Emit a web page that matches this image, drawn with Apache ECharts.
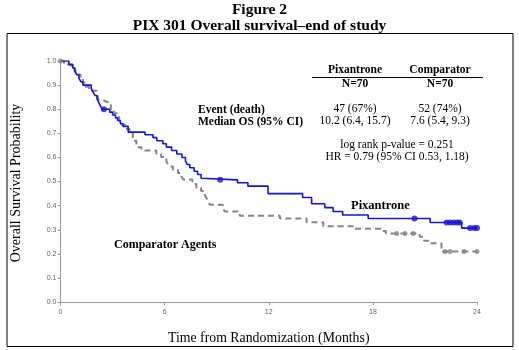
<!DOCTYPE html>
<html>
<head>
<meta charset="utf-8">
<script src="https://cdn.jsdelivr.net/npm/echarts@6/dist/echarts.min.js"></script>
<style>
  html, body { margin: 0; padding: 0; background: #fff; }
  #main { width: 519px; height: 350px; }
</style>
</head>
<body>
<div id="main"></div>
<script>
// Pixantrone KM curve (time in months, survival after the event)
const pixTimes = [0, 0.48, 0.71, 0.83, 0.94, 1.06, 1.17, 1.29, 1.77, 1.88, 1.98, 2.1, 2.2, 2.3, 2.4,
  2.83, 3.0, 3.17, 3.29, 3.45, 3.6, 3.9, 4.87, 5.33, 5.55, 5.9, 6.1, 6.4, 6.7, 7.0, 7.2, 7.3, 7.45,
  7.7, 7.9, 8.1, 8.2, 10.2, 10.8, 11.96, 13.95, 14.47, 15.23, 15.71, 16.26, 17.73, 21.3, 23.12, 24.0];
const pixSurv = [1.0, 0.986, 0.971, 0.957, 0.943, 0.929, 0.914, 0.9, 0.886, 0.871, 0.857, 0.843, 0.829, 0.814, 0.8,
  0.788, 0.776, 0.764, 0.753, 0.741, 0.729, 0.705, 0.694, 0.682, 0.669, 0.657, 0.643, 0.629, 0.614, 0.6, 0.586, 0.571, 0.557,
  0.543, 0.529, 0.514, 0.507, 0.495, 0.481, 0.45, 0.434, 0.408, 0.392, 0.376, 0.361, 0.347, 0.33, 0.307, 0.307];
const pixCensorTimes = [2.5, 9.2, 20.4, 22.25, 22.45, 22.65, 22.85, 23.0, 23.6, 23.85, 24.0];
const pixCensorSurv = [0.8, 0.507, 0.347, 0.33, 0.33, 0.33, 0.33, 0.33, 0.307, 0.307, 0.307];

// Comparator agents KM curve
const compTimes = [0, 0.2, 0.33, 0.62, 0.8, 1.0, 1.15, 1.29, 1.45, 1.64, 2.1, 2.21, 2.5, 2.73, 2.9, 3.1,
  3.25, 3.38, 3.5, 3.75, 3.98, 4.17, 4.37, 4.66, 5.52, 5.8, 6.1, 6.2, 6.29, 6.48, 6.77, 6.96, 7.07,
  7.6, 7.83, 8.1, 8.3, 8.4, 8.5, 8.6, 9.36, 9.45, 10.33, 12.64, 14.18, 15.14, 16.95, 18.45, 18.75,
  20.7, 20.95, 21.2, 21.95, 24.0];
const compSurv = [1.0, 0.986, 0.984, 0.97, 0.957, 0.944, 0.927, 0.91, 0.893, 0.877, 0.863, 0.836, 0.829, 0.819, 0.8, 0.783,
  0.768, 0.752, 0.736, 0.718, 0.702, 0.669, 0.642, 0.629, 0.615, 0.602, 0.582, 0.572, 0.562, 0.548, 0.535, 0.522, 0.508,
  0.49, 0.474, 0.461, 0.447, 0.433, 0.419, 0.404, 0.39, 0.376, 0.358, 0.347, 0.331, 0.315, 0.304, 0.295, 0.285,
  0.271, 0.254, 0.244, 0.21, 0.21];
const compCensorTimes = [0, 19.37, 19.85, 20.33, 22.16, 22.45, 23.25, 24.0];
const compCensorSurv = [1.0, 0.285, 0.285, 0.285, 0.21, 0.21, 0.21, 0.21];

const xTicks = [0, 6, 12, 18, 24];
const yTicks = [0, 0.1, 0.2, 0.3, 0.4, 0.5, 0.6, 0.7, 0.8, 0.9, 1.0];

const zip = (a, b) => a.map((v, i) => [v, b[i]]);

const serif = '"Liberation Serif", "DejaVu Serif", serif';
const sans = '"Liberation Sans", Arial, sans-serif';

var myChart = echarts.init(document.getElementById('main'));

function txt(x, y, text, opts) {
    return {
        type: 'text',
        x: x,
        y: y,
        style: Object.assign({
            text: text,
            fontFamily: serif,
            fontSize: 12,
            fill: '#000',
            textAlign: 'center',
            textVerticalAlign: 'middle'
        }, opts || {})
    };
}

let option = {
    animation: false,
    backgroundColor: '#fff',
    grid: { left: 60.5, right: 42, top: 61, bottom: 37.3 },
    xAxis: {
        type: 'value',
        min: 0,
        max: 24,
        interval: 6,
        name: 'Time from Randomization (Months)',
        nameLocation: 'middle',
        nameGap: 26,
        nameTextStyle: { fontFamily: serif, fontSize: 13.8, color: '#000' },
        axisLine: { lineStyle: { color: '#999', width: 1 } },
        axisTick: { length: 3, lineStyle: { color: '#999' }, customValues: xTicks },
        axisLabel: { fontFamily: sans, fontSize: 7, color: '#666', margin: 4, customValues: xTicks },
        splitLine: { show: false }
    },
    yAxis: {
        type: 'value',
        min: -0.012,
        max: 1.0,
        name: 'Overall Survival Probability',
        nameLocation: 'middle',
        nameGap: 37,
        nameTextStyle: { fontFamily: serif, fontSize: 14, color: '#000' },
        axisLine: { show: true, lineStyle: { color: '#999', width: 1 } },
        axisTick: { show: true, length: 3, lineStyle: { color: '#999' }, customValues: yTicks },
        axisLabel: { fontFamily: sans, fontSize: 7, color: '#666', margin: 4,
                     customValues: yTicks, formatter: v => v.toFixed(1) },
        splitLine: { show: false }
    },
    series: [
        {
            name: 'Comparator',
            type: 'line',
            step: 'end',
            data: zip(compTimes, compSurv),
            showSymbol: false,
            lineStyle: { color: '#858585', width: 2, type: [6, 4] },
            z: 2
        },
        {
            name: 'Pixantrone',
            type: 'line',
            step: 'end',
            data: zip(pixTimes, pixSurv),
            showSymbol: false,
            lineStyle: { color: '#1515d8', width: 1.6 },
            z: 3
        },
        {
            name: 'Comparator censored',
            type: 'scatter',
            data: zip(compCensorTimes, compCensorSurv),
            symbolSize: 5,
            itemStyle: { color: '#858585' },
            z: 4
        },
        {
            name: 'Pixantrone censored',
            type: 'scatter',
            data: zip(pixCensorTimes, pixCensorSurv),
            symbolSize: 6,
            itemStyle: { color: '#1515d8' },
            z: 5
        }
    ],
    graphic: [
        // titles
        txt(259.5, 10, 'Figure 2', { fontWeight: 'bold', fontSize: 15.5 }),
        txt(259.5, 25.5, 'PIX 301 Overall survival\u2013end of study', { fontWeight: 'bold', fontSize: 15.5 }),
        // outer frame
        { type: 'rect', shape: { x: 7, y: 33.5, width: 506, height: 313 },
          style: { fill: 'none', stroke: '#000', lineWidth: 1 }, z: -1 },
        // table header
        txt(355, 70, 'Pixantrone', { fontWeight: 'bold', fontSize: 11.5 }),
        txt(440, 70, 'Comparator', { fontWeight: 'bold', fontSize: 11.5 }),
        { type: 'line', shape: { x1: 312, y1: 77.5, x2: 483, y2: 77.5 },
          style: { stroke: '#000', lineWidth: 1 } },
        txt(355, 84, 'N=70', { fontWeight: 'bold', fontSize: 11.5 }),
        txt(440, 84, 'N=70', { fontWeight: 'bold', fontSize: 11.5 }),
        txt(198, 110, 'Event (death)', { fontWeight: 'bold', fontSize: 11.5, textAlign: 'left' }),
        txt(198, 122, 'Median OS (95% CI)', { fontWeight: 'bold', fontSize: 11.5, textAlign: 'left' }),
        txt(355, 108.5, '47 (67%)', { fontSize: 11.5 }),
        txt(440, 108.5, '52 (74%)', { fontSize: 11.5 }),
        txt(355, 121, '10.2 (6.4, 15.7)', { fontSize: 11.5 }),
        txt(440, 121, '7.6 (5.4, 9.3)', { fontSize: 11.5 }),
        txt(397, 144.5, 'log rank p-value = 0.251', { fontSize: 11.5 }),
        txt(397, 157, 'HR = 0.79 (95% CI 0.53, 1.18)', { fontSize: 11.5 }),
        // curve labels
        txt(351, 206, 'Pixantrone', { fontWeight: 'bold', fontSize: 12.5, textAlign: 'left' }),
        txt(114, 245, 'Comparator Agents', { fontWeight: 'bold', fontSize: 12, textAlign: 'left' })
    ]
};

myChart.setOption(option);
</script>
</body>
</html>
